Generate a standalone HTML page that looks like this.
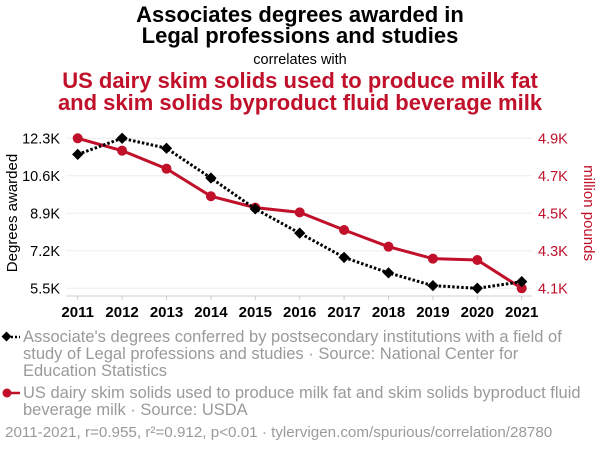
<!DOCTYPE html>
<html><head><meta charset="utf-8"><style>
body{margin:0;background:#fff;font-family:"Liberation Sans",sans-serif;}
svg{display:block}
</style></head><body>
<svg id="chart" width="600" height="452" xmlns="http://www.w3.org/2000/svg">
<text x="300" y="22" text-anchor="middle" font-size="22" font-weight="bold" fill="#000">Associates degrees awarded in</text>
<text x="300" y="43" text-anchor="middle" font-size="22" font-weight="bold" fill="#000">Legal professions and studies</text>
<text x="300" y="64" text-anchor="middle" font-size="14.5" fill="#000">correlates with</text>
<text x="300" y="88" text-anchor="middle" font-size="22" font-weight="bold" fill="#c0102a">US dairy skim solids used to produce milk fat</text>
<text x="300" y="110" text-anchor="middle" font-size="22" font-weight="bold" fill="#c0102a">and skim solids byproduct fluid beverage milk</text>
<g id="grid"></g><g id="axes"></g><g id="series"></g>
<text transform="translate(17,213) rotate(-90)" text-anchor="middle" font-size="15" fill="#000">Degrees awarded</text>
<text transform="translate(584,213) rotate(90)" text-anchor="middle" font-size="15" fill="#c0102a">million pounds</text>
<g>
<line x1="3" y1="337" x2="20" y2="337" stroke="#000" stroke-width="2.5" stroke-dasharray="2,2"/>
<rect x="3" y="333" width="7" height="7" transform="rotate(45 6.5 336.5)" fill="#000"/>
<text font-size="16.5" fill="#9a9a9a"><tspan x="23" y="342">Associate's degrees conferred by postsecondary institutions with a field of</tspan><tspan x="23" y="359">study of Legal professions and studies · Source: National Center for</tspan><tspan x="23" y="376">Education Statistics</tspan></text>
</g>
<g>
<line x1="3" y1="393" x2="20" y2="393" stroke="#c0102a" stroke-width="2.5"/>
<circle cx="7" cy="393" r="4.5" fill="#c0102a"/>
<text font-size="16.5" fill="#9a9a9a"><tspan x="23" y="398">US dairy skim solids used to produce milk fat and skim solids byproduct fluid</tspan><tspan x="23" y="415">beverage milk · Source: USDA</tspan></text>
</g>
<text x="5" y="437" font-size="15.2" fill="#9a9a9a">2011-2021, r=0.955, r²=0.912, p&lt;0.01 · tylervigen.com/spurious/correlation/28780</text>
</svg>
<script>
const years=[2011,2012,2013,2014,2015,2016,2017,2018,2019,2020,2021];
const degrees=[11.57,12.3,11.85,10.5,9.1,8.0,6.9,6.2,5.62,5.5,5.8];
const dairy=[4.9,4.834,4.738,4.591,4.53,4.505,4.411,4.322,4.258,4.251,4.1];
const leftTicks=[5.5,7.2,8.9,10.6,12.3];
const leftTickLabels=["5.5K","7.2K","8.9K","10.6K","12.3K"];
const rightTicks=[4.1,4.3,4.5,4.7,4.9];
const rightTickLabels=["4.1K","4.3K","4.5K","4.7K","4.9K"];
const NS="http://www.w3.org/2000/svg";
const x=v=>77.7+(v-2011)*44.4;
const yL=v=>288.3-(v-5.5)/(12.3-5.5)*150;
const yR=v=>288.3-(v-4.1)/(4.9-4.1)*150;
function mk(tag,attrs,parent,txt){const e=document.createElementNS(NS,tag);for(const k in attrs)e.setAttribute(k,attrs[k]);if(txt!==undefined)e.textContent=txt;document.getElementById(parent).appendChild(e);return e;}
leftTicks.forEach((t,i)=>{
 const g=mk('line',{x1:66,x2:532,y1:yL(t),y2:yL(t),stroke:'#eeeeee','stroke-width':1},'grid');
 
 
 const l=mk('text',{x:60,y:yL(t)+5,'text-anchor':'end','font-size':14.5,fill:'#000'},'axes',leftTickLabels[i]);
 
 
});
rightTicks.forEach((t,i)=>{
 const l=mk('text',{x:538,y:yR(t)+5,'font-size':14.5,fill:'#c0102a'},'axes',rightTickLabels[i]);
 
 
});
const ax=mk('line',{x1:66,x2:532,y1:296,y2:296,stroke:'#ccc','stroke-width':1},'axes');


years.forEach(yr=>{
 mk('line',{x1:x(yr),x2:x(yr),y1:296,y2:300,stroke:'#ccc'},'axes');
 const l=mk('text',{x:x(yr),y:317,'text-anchor':'middle','font-size':15,'font-weight':'bold',fill:'#000'},'axes',yr);
 
 
});
const rp=mk('polyline',{points:years.map((yr,i)=>x(yr)+','+yR(dairy[i])).join(' '),fill:'none',stroke:'#c0102a','stroke-width':3},'series');


years.forEach((yr,i)=>{
 const c=mk('circle',{cx:x(yr),cy:yR(dairy[i]),r:5,fill:'#c0102a'},'series');
 
 
});
const bp=mk('polyline',{points:years.map((yr,i)=>x(yr)+','+yL(degrees[i])).join(' '),fill:'none',stroke:'#000','stroke-width':3,'stroke-dasharray':'2.5,2'},'series');


years.forEach((yr,i)=>{
 const cx=x(yr),cy=yL(degrees[i]);
 const d=mk('rect',{x:cx-4,y:cy-4,width:8,height:8,fill:'#000',transform:`rotate(45 ${cx} ${cy})`},'series');
 
 
});
</script>
</body></html>
